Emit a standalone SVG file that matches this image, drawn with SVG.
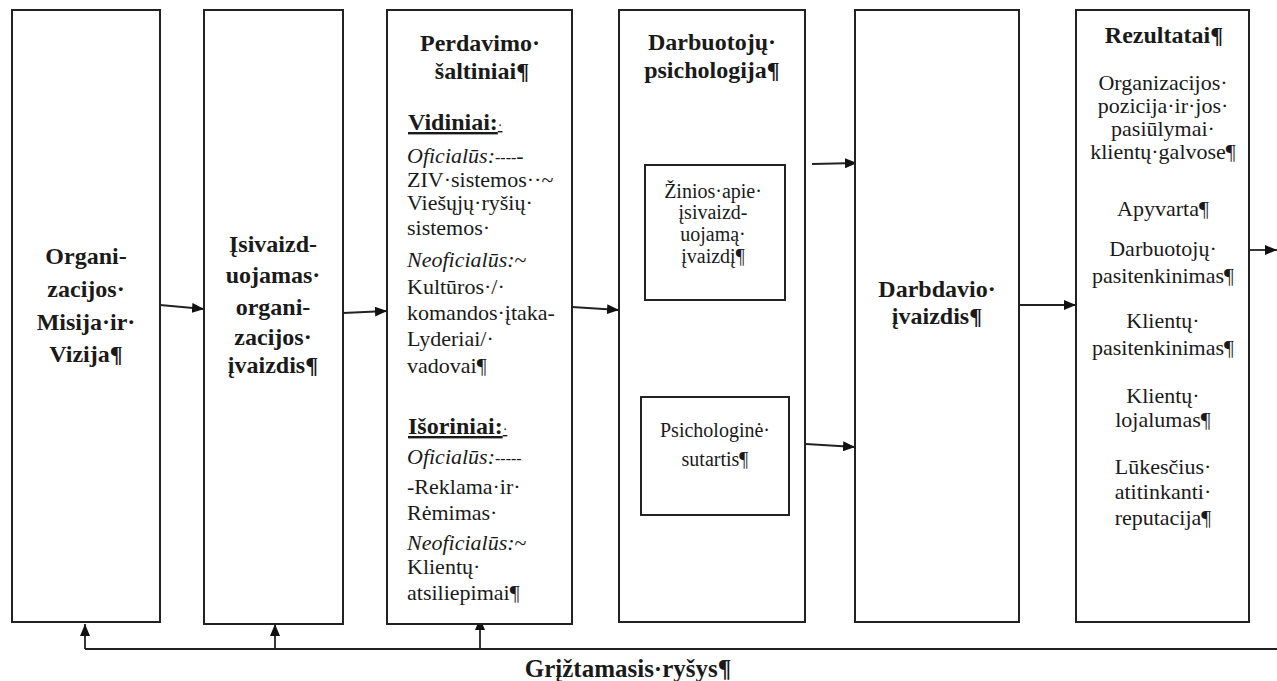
<svg xmlns="http://www.w3.org/2000/svg" width="1277" height="681" viewBox="0 0 1277 681">
<defs>
<marker id="ah" viewBox="0 0 12 10" refX="12" refY="5" markerWidth="12" markerHeight="10" markerUnits="userSpaceOnUse" orient="auto">
<path d="M0,0 L12,5 L0,10 z" fill="#111"/>
</marker>
<style>
.box{fill:#fff;stroke:#222;stroke-width:2}
.ln{fill:none;stroke:#222;stroke-width:1.8}
.arr{fill:none;stroke:#222;stroke-width:1.8;marker-end:url(#ah)}
text{font-family:"Liberation Serif","Times New Roman",serif;fill:#1a1a1a}
.b{font-weight:bold;font-size:24px;text-anchor:middle}
.bl{font-weight:bold;font-size:24px;text-decoration:underline}
.r{font-size:22px}
.c{font-size:22px;text-anchor:middle}
.s{font-size:20px;text-anchor:middle}
.i{font-style:italic}
.d{font-size:16px}
</style>
</defs>
<g id="connectors">
<path class="arr" d="M160,305 L204,309"/>
<path class="arr" d="M343,313 L387,311"/>
<path class="arr" d="M572,307 L619,310"/>
<path class="arr" d="M812,164 L857,163"/>
<path class="arr" d="M806,444 L855,447"/>
<path class="arr" d="M1020,305 L1076,305"/>
<path class="arr" d="M1250,250 L1277,250"/>
<path class="ln" d="M85,649 L1277,649"/>
<path class="arr" d="M85,649 L85,624"/>
<path class="arr" d="M275,649 L275,624"/>
<path class="arr" d="M480,649 L480,618"/>
</g>
<g id="n1">
<rect class="box" x="12" y="10" width="148" height="612"/>
<text class="b" x="86" y="264">Organi-</text>
<text class="b" x="86" y="297">zacijos·</text>
<text class="b" x="86" y="330">Misija·ir·</text>
<text class="b" x="86" y="362">Vizija¶</text>
</g>
<g id="n2">
<rect class="box" x="204" y="10" width="139" height="614"/>
<text class="b" x="273" y="252">Įsivaizd-</text>
<text class="b" x="273" y="283">uojamas·</text>
<text class="b" x="273" y="315">organi-</text>
<text class="b" x="273" y="345">zacijos·</text>
<text class="b" x="273" y="373">įvaizdis¶</text>
</g>
<g id="n3">
<rect class="box" x="387" y="10" width="185" height="614"/>
<text class="b" x="480" y="51">Perdavimo·</text>
<text class="b" x="482" y="79">šaltiniai¶</text>
<text class="bl" x="408" y="130">Vidiniai:<tspan style="text-decoration:none;font-weight:normal;font-size:14px">·</tspan></text>
<text class="r" x="407" y="163"><tspan class="i">Oficialūs:</tspan><tspan class="d">----</tspan>-</text>
<text class="r" x="407" y="187">ZIV·sistemos··~</text>
<text class="r" x="407" y="210">Viešųjų·ryšių·</text>
<text class="r" x="407" y="235">sistemos·</text>
<text class="r" x="407" y="267"><tspan class="i">Neoficialūs:</tspan>~</text>
<text class="r" x="407" y="294">Kultūros·/·</text>
<text class="r" x="407" y="320">komandos·įtaka-</text>
<text class="r" x="407" y="346">Lyderiai/·</text>
<text class="r" x="407" y="373">vadovai¶</text>
<text class="bl" x="408" y="434">Išoriniai:<tspan style="text-decoration:none;font-weight:normal;font-size:14px">·</tspan></text>
<text class="r" x="407" y="464"><tspan class="i">Oficialūs:</tspan><tspan class="d">-----</tspan></text>
<text class="r" x="407" y="494">-Reklama·ir·</text>
<text class="r" x="407" y="520">Rėmimas·</text>
<text class="r" x="407" y="550"><tspan class="i">Neoficialūs:</tspan>~</text>
<text class="r" x="407" y="574">Klientų·</text>
<text class="r" x="407" y="600">atsiliepimai¶</text>
</g>
<g id="n4">
<rect class="box" x="619" y="10" width="186" height="612"/>
<text class="b" x="712" y="50">Darbuotojų·</text>
<text class="b" x="712" y="78">psichologija¶</text>
</g>
<g id="n4a">
<rect class="box" x="645" y="165" width="140" height="135"/>
<text class="s" x="713" y="198">Žinios·apie·</text>
<text class="s" x="713" y="219">įsivaizd-</text>
<text class="s" x="713" y="241">uojamą·</text>
<text class="s" x="713" y="263">įvaizdį¶</text>
</g>
<g id="n4b">
<rect class="box" x="641" y="397" width="148" height="118"/>
<text class="s" x="715" y="437">Psichologinė·</text>
<text class="s" x="715" y="466">sutartis¶</text>
</g>
<g id="n5">
<rect class="box" x="855" y="10" width="164" height="612"/>
<text class="b" x="937" y="297">Darbdavio·</text>
<text class="b" x="937" y="324">įvaizdis¶</text>
</g>
<g id="n6">
<rect class="box" x="1076" y="10" width="173" height="612"/>
<text class="b" x="1164" y="43">Rezultatai¶</text>
<text class="c" x="1163" y="90">Organizacijos·</text>
<text class="c" x="1163" y="113">pozicija·ir·jos·</text>
<text class="c" x="1163" y="136">pasiūlymai·</text>
<text class="c" x="1163" y="159">klientų·galvose¶</text>
<text class="c" x="1163" y="216">Apyvarta¶</text>
<text class="c" x="1163" y="256">Darbuotojų·</text>
<text class="c" x="1163" y="283">pasitenkinimas¶</text>
<text class="c" x="1163" y="328">Klientų·</text>
<text class="c" x="1163" y="355">pasitenkinimas¶</text>
<text class="c" x="1163" y="403">Klientų·</text>
<text class="c" x="1163" y="427">lojalumas¶</text>
<text class="c" x="1163" y="474">Lūkesčius·</text>
<text class="c" x="1163" y="499">atitinkanti·</text>
<text class="c" x="1163" y="525">reputacija¶</text>
</g>
<g id="label">
<text class="b" x="628" y="677" style="font-size:25px">Grįžtamasis·ryšys¶</text>
</g>
</svg>
